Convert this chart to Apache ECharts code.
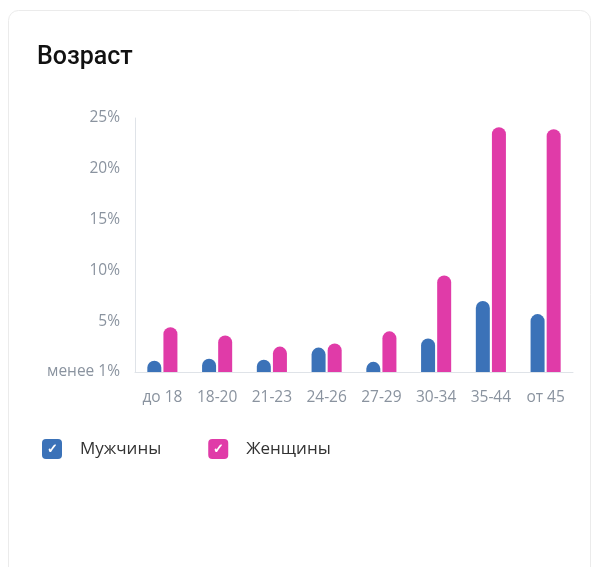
<!DOCTYPE html>
<html>
<head>
<meta charset="utf-8">
<script src="https://cdn.jsdelivr.net/npm/echarts@6/dist/echarts.min.js"></script>
<style>
  html, body { margin: 0; padding: 0; background: #ffffff; }
  #chart { width: 593px; height: 567px; }
</style>
</head>
<body>
<div id="chart"></div>
<script>
// Age groups
const categories = ['до 18', '18-20', '21-23', '24-26', '27-29', '30-34', '35-44', 'от 45'];
// Share of audience, percent
const menValues = [1.1, 1.3, 1.2, 2.4, 1.0, 3.3, 7.0, 5.7];
const womenValues = [4.4, 3.6, 2.5, 2.8, 4.0, 9.5, 24.1, 23.9];
// Y axis ticks (0 is shown as "менее 1%")
const yTicks = [0, 5, 10, 15, 20, 25];

const seriesNames = ['Мужчины', 'Женщины'];
const colors = ['#3b72b8', '#e03ba8'];
const labelFont = '"Open Sans", "Liberation Sans", Arial, sans-serif';

const chart = echarts.init(document.getElementById('chart'));

function checkBox(color) {
  return {
    backgroundColor: color,
    borderRadius: 4,
    width: 20,
    height: 20,
    lineHeight: 20,
    align: 'center',
    color: '#ffffff',
    fontSize: 13,
    fontWeight: 'bold'
  };
}

chart.setOption({
  animation: false,
  backgroundColor: '#ffffff',
  graphic: [{
    type: 'rect',
    z: -10,
    silent: true,
    shape: { x: 8.5, y: 10.5, width: 582, height: 580, r: 10 },
    style: { fill: '#ffffff', stroke: '#ebebeb', lineWidth: 1 }
  }],
  title: {
    text: 'Возраст',
    left: 32,
    top: 40,
    textStyle: { fontFamily: 'Roboto, "Open Sans", sans-serif', fontSize: 25, fontWeight: 500, color: '#111111' }
  },
  legend: {
    left: 32,
    top: 434,
    itemWidth: 0,
    itemHeight: 0,
    itemGap: 42,
    selectedMode: false,
    data: seriesNames.map((name, i) => ({
      name: name,
      icon: 'rect',
      textStyle: {
        rich: {
          b: checkBox(colors[i]),
          t: { fontFamily: labelFont, fontSize: 17, color: '#333333', padding: [0, 0, 0, 18] }
        }
      }
    })),
    formatter: name => '{b|✓}{t|' + name + '}'
  },
  grid: { left: 135, right: 20, top: 118, bottom: 195 },
  xAxis: {
    type: 'category',
    data: categories,
    axisLine: { lineStyle: { color: '#dfe3e8' } },
    axisTick: { show: false },
    axisLabel: { color: '#8a939f', fontFamily: labelFont, fontSize: 15.5, margin: 18 }
  },
  yAxis: {
    type: 'value',
    min: yTicks[0],
    max: yTicks[yTicks.length - 1],
    interval: 5,
    splitLine: { show: false },
    axisLine: { show: true, lineStyle: { color: '#dfe3e8' } },
    axisTick: { show: false },
    axisLabel: {
      color: '#8a939f',
      fontFamily: labelFont,
      fontSize: 15.5,
      margin: 15,
      formatter: v => (v === 0 ? 'менее 1%' : v + '%')
    }
  },
  series: [
    {
      name: seriesNames[0],
      type: 'bar',
      data: menValues,
      barWidth: 14,
      barGap: '15%',
      itemStyle: { color: colors[0], borderRadius: [7, 7, 0, 0] }
    },
    {
      name: seriesNames[1],
      type: 'bar',
      data: womenValues,
      barWidth: 14,
      itemStyle: { color: colors[1], borderRadius: [7, 7, 0, 0] }
    }
  ]
});
</script>
</body>
</html>
